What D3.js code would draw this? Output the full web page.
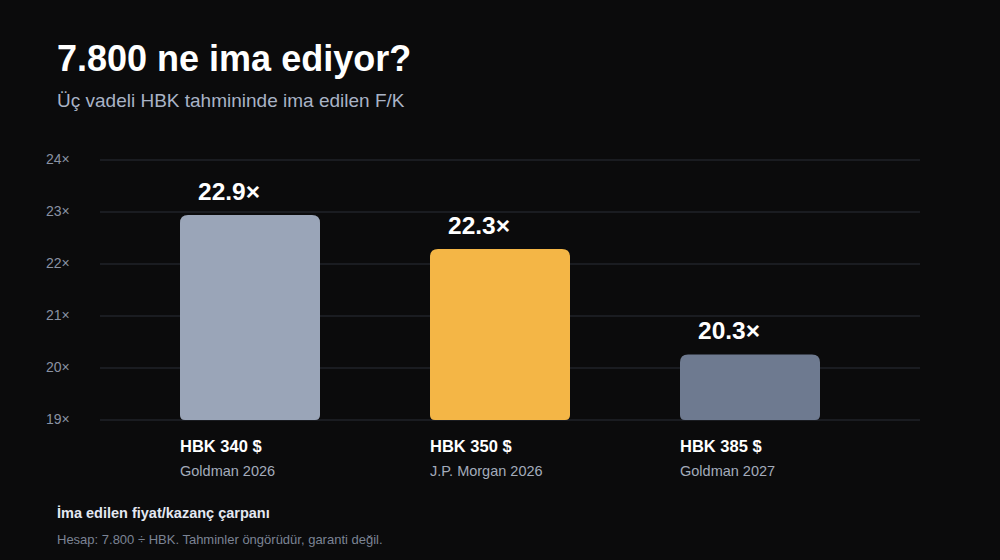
<!DOCTYPE html>
<html>
<head>
<meta charset="utf-8">
<script src="https://cdn.jsdelivr.net/npm/d3@7"></script>
<style>
  body { margin: 0; background: #0b0b0c; }
  svg { display: block; font-family: "Liberation Sans", Arial, sans-serif; }
</style>
</head>
<body>
<svg id="chart" width="1000" height="560"></svg>
<script>
// implied P/E = 7800 / HBK forecast
const targets = ["HBK 340 $", "HBK 350 $", "HBK 385 $"];
const sources = ["Goldman 2026", "J.P. Morgan 2026", "Goldman 2027"];
const multiples = [22.94, 22.29, 20.26];
const yTicks = [19, 20, 21, 22, 23, 24];
const barColors = ["#9aa5b8", "#f4b646", "#6e7a90"];

const data = targets.map((t, i) => ({ target: t, source: sources[i], value: multiples[i], color: barColors[i] }));

const svg = d3.select("#chart");
svg.append("rect").attr("width", 1000).attr("height", 560).attr("fill", "#0b0b0c");

// titles
svg.append("text").attr("x", 57).attr("y", 71)
  .attr("fill", "#ffffff").attr("font-size", 36).attr("font-weight", "bold")
  .text("7.800 ne ima ediyor?");
svg.append("text").attr("x", 57).attr("y", 107)
  .attr("fill", "#a9b3c6").attr("font-size", 19)
  .text("Üç vadeli HBK tahmininde ima edilen F/K");

const gridLeft = 100, gridRight = 920;

let xScale = d3.scaleBand()
  .domain(targets)
  .range([125, 875])
  .paddingInner(0.44)
  .paddingOuter(0.22);

let yScale = d3.scaleLinear()
  .domain([19, 24])
  .range([420, 160]);

// gridlines + tick labels
const yAxis = svg.append("g").attr("class", "axis axis-y");
yAxis.selectAll("line")
  .data(yTicks)
  .join("line")
  .attr("x1", gridLeft).attr("x2", gridRight)
  .attr("y1", d => yScale(d)).attr("y2", d => yScale(d))
  .attr("stroke", "#2b2e36").attr("stroke-width", 1);
yAxis.selectAll("text")
  .data(yTicks)
  .join("text")
  .attr("x", 46).attr("y", d => yScale(d))
  .attr("dy", "0.3em")
  .attr("fill", "#8a92a3").attr("font-size", 14)
  .text(d => d + "×");

// bar shape: big radius top, small radius bottom
function barPath(x, y, w, h, rt, rb) {
  return `M${x},${y + rt}` +
    `Q${x},${y} ${x + rt},${y}` +
    `H${x + w - rt}` +
    `Q${x + w},${y} ${x + w},${y + rt}` +
    `V${y + h - rb}` +
    `Q${x + w},${y + h} ${x + w - rb},${y + h}` +
    `H${x + rb}` +
    `Q${x},${y + h} ${x},${y + h - rb}` +
    `Z`;
}

const bars = svg.append("g");
bars.selectAll("path")
  .data(data)
  .join("path")
  .attr("d", d => {
    const y = yScale(d.value);
    return barPath(xScale(d.target), y, xScale.bandwidth(), yScale(19) - y, 8, 5);
  })
  .attr("fill", d => d.color);

// value labels
bars.selectAll("text.value")
  .data(data)
  .join("text")
  .attr("class", "value")
  .attr("x", d => xScale(d.target) + 18)
  .attr("y", d => yScale(d.value) - 15)
  .attr("fill", "#ffffff").attr("font-size", 24.5).attr("font-weight", "bold")
  .text(d => d.value.toFixed(1) + "×");

// category labels
bars.selectAll("text.target")
  .data(data)
  .join("text")
  .attr("class", "target")
  .attr("x", d => xScale(d.target))
  .attr("y", 452)
  .attr("fill", "#ffffff").attr("font-size", 16.5).attr("font-weight", "bold")
  .text(d => d.target);
bars.selectAll("text.source")
  .data(data)
  .join("text")
  .attr("class", "source")
  .attr("x", d => xScale(d.target))
  .attr("y", 476)
  .attr("fill", "#a3abbb").attr("font-size", 14.5)
  .text(d => d.source);

// footer
svg.append("text").attr("x", 57).attr("y", 518)
  .attr("fill", "#e4e8f2").attr("font-size", 14.5).attr("font-weight", "bold")
  .text("İma edilen fiyat/kazanç çarpanı");
svg.append("text").attr("x", 57).attr("y", 544)
  .attr("fill", "#7c8494").attr("font-size", 13)
  .text("Hesap: 7.800 ÷ HBK. Tahminler öngörüdür, garanti değil.");
</script>
</body>
</html>
